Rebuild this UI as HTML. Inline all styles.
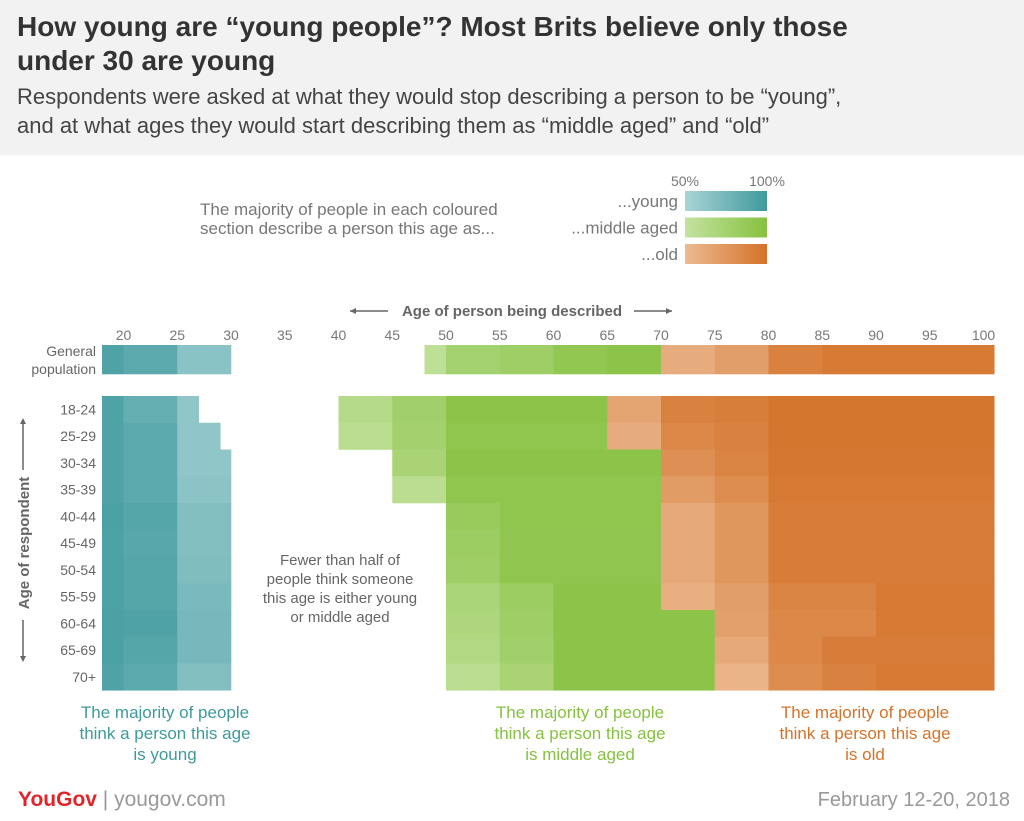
<!DOCTYPE html>
<html><head><meta charset="utf-8">
<style>
body{margin:0;width:1024px;height:821px;background:#fff;font-family:"Liberation Sans",sans-serif;overflow:hidden;position:relative}
.hdr{position:absolute;left:0;top:0;width:1024px;height:155px;background:#f2f2f2}
.t{position:absolute;left:17px;top:10px;font-size:28px;font-weight:bold;color:#333;line-height:34px;width:1000px;white-space:nowrap}
.s{position:absolute;left:17px;top:82px;font-size:22px;color:#444;line-height:29px;width:1000px;white-space:nowrap}
.txt{position:absolute;color:#666}
</style></head><body>
<div class="hdr"></div>
<div class="t">How young are “young people”? Most Brits believe only those<br>under 30 are young</div>
<div class="s">Respondents were asked at what they would stop describing a person to be “young”,<br>and at what ages they would start describing them as “middle aged” and “old”</div>
<div class="txt" style="left:200px;top:200px;font-size:17px;line-height:19px;color:#777">The majority of people in each coloured<br>section describe a person this age as...</div>
<svg id="c" width="1024" height="821" style="position:absolute;left:0;top:0"></svg>
<div class="txt" style="left:245px;top:551px;width:190px;text-align:center;font-size:15px;line-height:19px">Fewer than half of<br>people think someone<br>this age is either young<br>or middle aged</div>
<div class="txt" style="left:60px;top:702px;width:210px;text-align:center;font-size:17px;line-height:21px;color:#3e9a9d">The majority of people<br>think a person this age<br>is young</div>
<div class="txt" style="left:475px;top:702px;width:210px;text-align:center;font-size:17px;line-height:21px;color:#86c13f">The majority of people<br>think a person this age<br>is middle aged</div>
<div class="txt" style="left:760px;top:702px;width:210px;text-align:center;font-size:17px;line-height:21px;color:#d4732a">The majority of people<br>think a person this age<br>is old</div>
<div class="txt" style="left:18px;top:788px;font-size:21px;font-weight:bold;color:#e0252b">YouGov <span style="color:#999;font-weight:normal">| yougov.com</span></div>
<div class="txt" style="right:14px;top:789px;font-size:20px;color:#999">February 12-20, 2018</div>
<script>
const rowLabels=["General population","18-24","25-29","30-34","35-39","40-44","45-49","50-54","55-59","60-64","65-69","70+"];
const xTicks=[20,25,30,35,40,45,50,55,60,65,70,75,80,85,90,95,100];
// segments per row: [startAge,endAge,category,percent]
const rowGP=[[18,20,'y',92],[20,25,'y',86],[25,30,'y',65],[48,50,'m',55],[50,55,'m',75],[55,60,'m',80],[60,65,'m',90],[65,70,'m',95],[70,75,'o',60],[75,80,'o',70],[80,85,'o',90],[85,101,'o',95]];
const row1824=[[18,20,'y',92],[20,25,'y',82],[25,27,'y',62],[40,45,'m',62],[45,50,'m',78],[50,65,'m',96],[65,70,'o',65],[70,75,'o',90],[75,80,'o',92],[80,101,'o',98]];
const row2529=[[18,20,'y',92],[20,25,'y',86],[25,29,'y',62],[40,45,'m',58],[45,50,'m',76],[50,65,'m',93],[65,70,'o',60],[70,75,'o',85],[75,80,'o',90],[80,101,'o',98]];
const row3034=[[18,20,'y',92],[20,25,'y',86],[25,30,'y',62],[45,50,'m',72],[50,70,'m',95],[70,75,'o',80],[75,80,'o',88],[80,101,'o',97]];
const row3539=[[18,20,'y',92],[20,25,'y',86],[25,30,'y',64],[45,50,'m',58],[50,70,'m',93],[70,75,'o',72],[75,80,'o',82],[80,101,'o',96]];
const row4044=[[18,20,'y',94],[20,25,'y',90],[25,30,'y',68],[50,55,'m',85],[55,70,'m',93],[70,75,'o',62],[75,80,'o',75],[80,101,'o',93]];
const row4549=[[18,20,'y',93],[20,25,'y',88],[25,30,'y',68],[50,55,'m',82],[55,70,'m',92],[70,75,'o',62],[75,80,'o',75],[80,101,'o',93]];
const row5054=[[18,20,'y',93],[20,25,'y',90],[25,30,'y',70],[50,55,'m',80],[55,70,'m',92],[70,75,'o',62],[75,80,'o',75],[80,101,'o',93]];
const row5559=[[18,20,'y',93],[20,25,'y',90],[25,30,'y',72],[50,55,'m',70],[55,60,'m',82],[60,70,'m',95],[70,75,'o',58],[75,80,'o',70],[80,90,'o',88],[90,101,'o',96]];
const row6064=[[18,20,'y',94],[20,25,'y',92],[25,30,'y',74],[50,55,'m',68],[55,60,'m',80],[60,75,'m',95],[75,80,'o',68],[80,90,'o',85],[90,101,'o',95]];
const row6569=[[18,20,'y',94],[20,25,'y',90],[25,30,'y',74],[50,55,'m',65],[55,60,'m',78],[60,75,'m',95],[75,80,'o',62],[80,85,'o',85],[85,101,'o',93]];
const row70=[[18,20,'y',92],[20,25,'y',86],[25,30,'y',68],[50,55,'m',58],[55,60,'m',72],[60,75,'m',95],[75,80,'o',55],[80,85,'o',82],[85,90,'o',90],[90,101,'o',96]];
const rows=[rowGP,row1824,row2529,row3034,row3539,row4044,row4549,row5054,row5559,row6064,row6569,row70];

const NS="http://www.w3.org/2000/svg";
const svg=document.getElementById('c');
const X=a=>102+(a-18)*10.75;
const rowY=i=>i===0?345:396+(i-1)*26.75;
const rowH=i=>i===0?29:26.75;
const full={y:[62,154,157],m:[134,193,63],o:[212,115,42]};
const light={y:[170,212,214],m:[196,226,160],o:[236,186,146]};
function col(c,p){const t=Math.max(0,Math.min(1,(p-50)/50));const a=light[c],b=full[c];return 'rgb('+a.map((v,k)=>Math.round(v+(b[k]-v)*t)).join(',')+')';}
function mk(tag,attrs,parent){const e=document.createElementNS(NS,tag);for(const k in attrs)e.setAttribute(k,attrs[k]);(parent||svg).appendChild(e);return e;}
const defs=mk('defs',{});
const legCats=['y','m','o'],legNames=['...young','...middle aged','...old'];
legCats.forEach((c,i)=>{
  const g=mk('linearGradient',{id:'g'+c},defs);
  mk('stop',{offset:'0','stop-color':col(c,50)},g);
  mk('stop',{offset:'1','stop-color':col(c,100)},g);
  const r=mk('rect',{x:685,y:191+i*26.5,width:82,height:20,fill:'url(#g'+c+')'});
  
  
  const t=mk('text',{x:678,y:207+i*26.5,'text-anchor':'end','font-size':17,fill:'#777'});
  t.textContent=legNames[i];
  
  
});
[['50%',685],['100%',767]].forEach(([s,x])=>{const t=mk('text',{x:x,y:186,'text-anchor':'middle','font-size':14,fill:'#777'});t.textContent=s;

});
const xt=mk('text',{x:512,y:316,'text-anchor':'middle','font-size':15,'font-weight':'bold',fill:'#666'});
xt.textContent='Age of person being described';


mk('path',{d:'M350 311H388M634 311H672',stroke:'#666','stroke-width':1.5});
mk('path',{d:'M350 311l6-3v6zM672 311l-6-3v6z',fill:'#666'});
xTicks.forEach(v=>{const t=mk('text',{x:X(v),y:340,'text-anchor':'middle','font-size':14,fill:'#777'});t.textContent=v;

});
rows.forEach((segs,i)=>{
  segs.forEach(s=>{
    const r=mk('rect',{x:X(s[0]),y:rowY(i),width:X(s[1])-X(s[0])+0.3,height:rowH(i)+0.3,fill:col(s[2],s[3])});
    
    
  });
  const lab=rowLabels[i];
  if(i===0){
    ['General','population'].forEach((w,k)=>{const t=mk('text',{x:96,y:356+k*18,'text-anchor':'end','font-size':14,fill:'#666'});t.textContent=w;
    
    });
  }else{
    const t=mk('text',{x:96,y:rowY(i)+rowH(i)/2+5,'text-anchor':'end','font-size':14,fill:'#666'});t.textContent=lab;
    
    
  }
});
const yt=mk('text',{x:0,y:0,transform:'translate(29,543) rotate(-90)','text-anchor':'middle','font-size':15,'font-weight':'bold',fill:'#666'});
yt.textContent='Age of respondent';


mk('path',{d:'M23 420V470M23 620V660',stroke:'#666','stroke-width':1.5});
mk('path',{d:'M23 418l-3 6h6zM23 662l-3-6h6z',fill:'#666'});
</script>
</body></html>
